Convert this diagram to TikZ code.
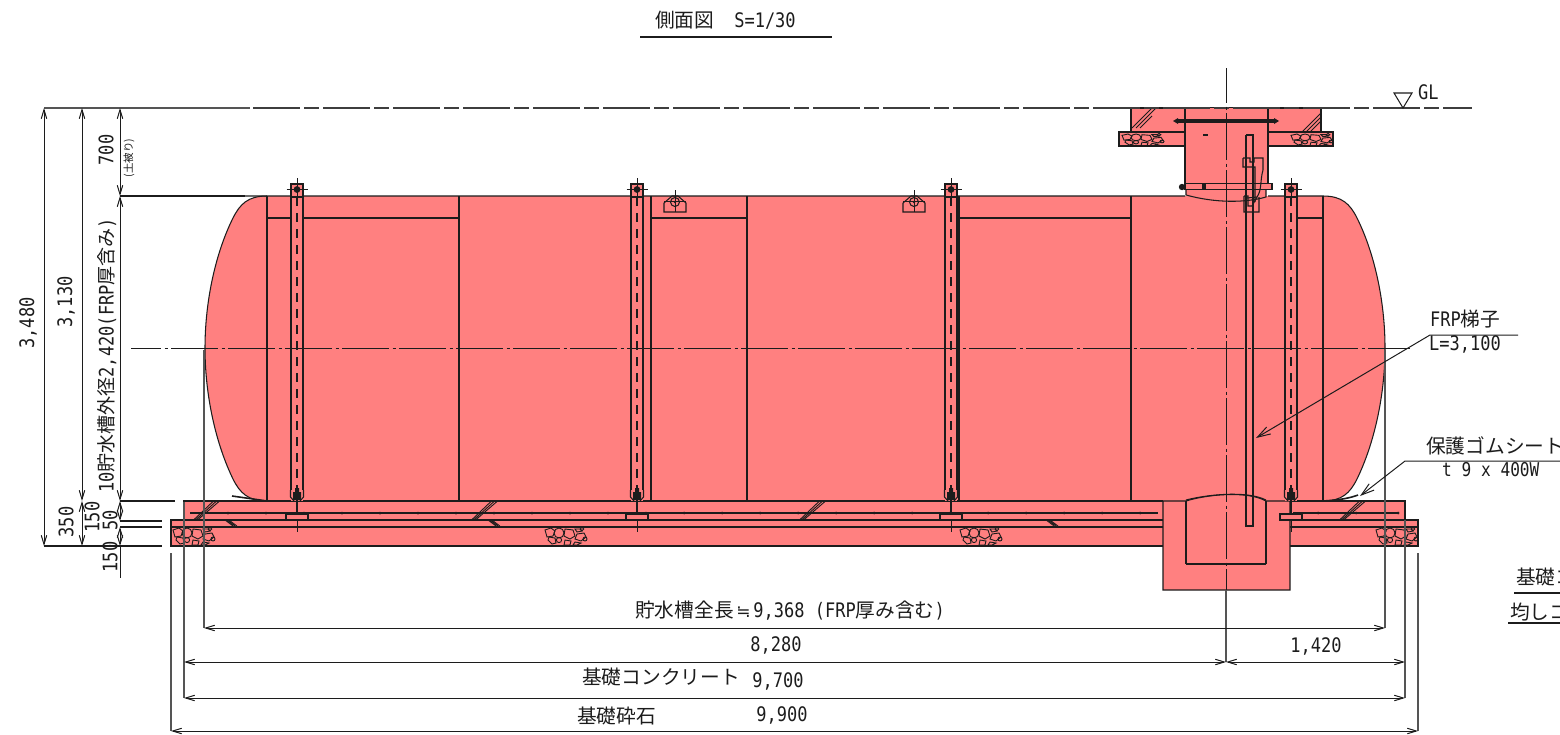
\documentclass[tikz,border=0pt]{standalone}
\usepackage{fontspec}
\setmainfont[FakeStretch=0.85]{DejaVu Sans Mono}
\newfontfamily\jp{Noto Sans CJK JP}
\newfontfamily\dv{DejaVu Sans}
\usetikzlibrary{arrows.meta}
\definecolor{tankfill}{HTML}{FF8080}
\definecolor{ink}{HTML}{1C1C1C}
\tikzset{
  ln/.style={draw=ink,line width=1.05pt},
  thin ln/.style={draw=ink,line width=0.9pt},
  thick ln/.style={draw=ink,line width=2pt},
  body/.style={fill=tankfill,draw=ink,line width=1.05pt},
  centre/.style={draw=ink!85,line width=1.3pt,dash pattern=on 47pt off 4pt on 15pt off 4pt},
  centre2/.style={draw=ink,line width=1pt,dash pattern=on 47pt off 3.5pt on 3pt off 3.5pt,dash phase=17pt},
  dimline/.style={draw=ink,line width=1pt,{Straight Barb[length=9pt,width=5.5pt]}-{Straight Barb[length=9pt,width=5.5pt]}},
  leader/.style={draw=ink,line width=1pt,-{Straight Barb[length=13pt,width=8pt]}},
  ext/.style={draw=ink!75,line width=1.3pt},
  lbl/.style={font=\fontsize{20}{21}\selectfont,text=ink,inner sep=0pt},
  jplbl/.style={font=\jp\fontsize{19.7}{20}\selectfont,text=ink,inner sep=0pt},
}
\newcommand{\jpt}[1]{{\jp\fontsize{19.7}{20}\selectfont #1}}
\newcommand{\jps}[1]{{\jp\fontsize{19}{20}\selectfont #1}}
\newcommand{\stonesAt}[3][1]{%
  \begin{scope}[shift={(#2,#3)},yscale=#1,draw=ink,line width=0.9pt]
    \draw (1,2) -- (7,0) -- (11,3) -- (9,8) -- (3,9) -- cycle;
    \draw (5,9) -- (11,10) -- (12,15) -- (8,16) -- (4,12) -- cycle;
    \draw (15,5) circle (5pt);
    \draw (21,1) -- (29,2) -- (31,8) -- (26,11) -- (20,8) -- cycle;
    \draw (15,12) circle (2.6pt);
    \draw (21,12) -- (27,13) -- (26,17) -- (20,17) -- cycle;
    \draw (31,1) -- (36,1) -- (38,3) -- (33,4) -- cycle;
    \draw (33,6) -- (40,5) -- (42,9) -- (37,13) -- (31,11) -- cycle;
    \draw (31,14) -- (37,15) -- (33,17) -- (29,17) -- cycle;
    \draw (41,11) circle (2pt);
    \draw (38,1) circle (1.8pt);
  \end{scope}}
\newcommand{\hatchAt}[2]{%
  \begin{scope}[shift={(#1,#2)},line width=0.9pt,draw=ink]
    \draw (-10,9.5) -- (11,-9.5) (-12,9.5) -- (8,-9.5) (-8,9.5) -- (14,-9.5);
  \end{scope}}
\newcommand{\smallhatch}[2]{%
  \begin{scope}[shift={(#1,#2)},line width=0.8pt,draw=ink]
    \draw (-6,-3) -- (2,3) (-4,-3) -- (4,3) (-2,-3) -- (6,3);
  \end{scope}}
\newcommand{\strapAt}[1]{%
  \begin{scope}[shift={(#1,0)}]
    \path[fill=tankfill] (-6,184) rectangle (6,501);
    \draw[ln] (-6,184) rectangle (6,197);
    \draw[ln,line width=1.4pt] (-6,197) -- (-6,490) (6,197) -- (6,490);
    \draw[ln] (-6.5,490) -- (-6.5,497) -- (-3,501) (6.5,490) -- (6.5,497) -- (3,501);
    \draw[ln,dash pattern=on 9pt off 7pt] (0,197) -- (0,490);
    \fill[ink] (0,189.5) circle (3.4pt);
    \draw[ln,line width=0.9pt] (0,178) -- (0,196) (-10.5,189.5) -- (10.5,189.5);
    \fill[ink] (-2,488) rectangle (2,492) (-4,492) rectangle (4,500);
    \draw[ln,line width=1.6pt] (0,500) -- (0,520);
    \draw[ln,line width=1pt] (0,520) -- (0,532);
    \draw[ln,fill=tankfill] (-11,514) rectangle (11,520);
  \end{scope}}
\begin{document}
\begin{tikzpicture}[x=1pt,y=-1pt]
\useasboundingbox (0,0) rectangle (1560,734);
% foundations
\path[body] (184,501) rectangle (1405,520);
\path[body] (171,520) rectangle (1418,546);
\draw[ln] (171,527) -- (1418,527);
\draw[thick ln] (190,513) -- (1158,513) (1293,513) -- (1399,513);
\foreach \x in {228,266,304,342,380,418,456,494,532,570,608,646,684,722,760,798,836,874,912,950,988,1026,1064,1102,1140,1318,1356,1398}{\fill[ink] (\x,513) circle (1.5pt);}
\stonesAt{172}{528}\stonesAt{544}{528}\stonesAt{959}{528}\stonesAt{1375}{528}
\hatchAt{205}{511}\hatchAt{483}{511}\hatchAt{811}{511}\hatchAt{1351}{511}
\smallhatch{231}{523}\smallhatch{494}{523}\smallhatch{1052}{523}
% tank
\path[fill=tankfill] (267,196) -- (1323,196)
  .. controls (1342,196) and (1350,204) .. (1357,218)
  .. controls (1374,252) and (1385,300) .. (1385,348)
  .. controls (1385,396) and (1374,444) .. (1357,479)
  .. controls (1350,493) and (1342,501) .. (1323,501)
  -- (267,501)
  .. controls (248,501) and (240,493) .. (233,479)
  .. controls (216,444) and (205,396) .. (205,348)
  .. controls (205,300) and (216,252) .. (233,218)
  .. controls (240,204) and (248,196) .. (267,196) -- cycle;
\draw[ln] (245,196) -- (1185,196) (1268,196) -- (1323,196)
  .. controls (1342,196) and (1350,204) .. (1357,218)
  .. controls (1374,252) and (1385,300) .. (1385,348)
  .. controls (1385,396) and (1374,444) .. (1357,479)
  .. controls (1350,493) and (1342,501) .. (1323,501);
\draw[ln] (267,501) .. controls (248,501) and (240,493) .. (233,479)
  .. controls (216,444) and (205,396) .. (205,348)
  .. controls (205,300) and (216,252) .. (233,218)
  .. controls (240,204) and (248,196) .. (267,196);
\draw[thick ln,line width=2.2pt] (267,501) -- (1163,501) (1290,501) -- (1323,501);
\draw[thick ln,line width=1.6pt] (232,496) -- (267,501) (1323,501) .. controls (1340,500) and (1350,498) .. (1358,495);
\foreach \x in {267,459,651,747,959,1131,1323}{\draw[ln] (\x,196) -- (\x,501);}
\draw[ln] (267,218) -- (459,218) (651,218) -- (747,218) (959,218) -- (1131,218) (1297,218) -- (1323,218);
% pit
\path[body] (1163,501) -- (1186,501) .. controls (1205,495) and (1246,490) .. (1266,501) -- (1290,501) -- (1290,590) -- (1163,590) -- cycle;
\draw[ln] (1186,501) -- (1186,564) (1266,501) -- (1266,564);
\draw[thick ln,line width=1.8pt] (1186,564) -- (1266,564);
\draw[ln] (1186,500) .. controls (1205,495) and (1246,490) .. (1266,500);
% straps
\strapAt{297}\strapAt{637}\strapAt{951}\strapAt{1291}
% hangers
\foreach \x in {675,914}{
  \begin{scope}[shift={(\x,0)}]
    \draw[ln] (-11,212) -- (-11,203) -- (-3,196) -- (3,196) -- (11,203) -- (11,212) -- cycle;
    \draw[ln] (0,202) circle (4.5pt);
    \fill[ink] (0,202) circle (1.4pt);
    \draw[thin ln] (-11,201) -- (11,201) (0,190) -- (0,212);
  \end{scope}}
% manhole
\path[body] (1131,108) rectangle (1321,132);
\path[body] (1119,132) rectangle (1333,146);
\draw[thick ln] (1119,132) -- (1185,132) (1268,132) -- (1333,132);
\stonesAt[0.68]{1121}{134}\stonesAt[0.68]{1290}{134}
\draw[ln,line width=0.9pt] (1132,128) -- (1152,108) (1136,128) -- (1156,108) (1140,128) -- (1152,116);
\draw[ln,line width=0.9pt] (1302,132) -- (1321,113) (1306,132) -- (1321,117) (1310,132) -- (1321,121);
\path[fill=tankfill] (1185,108) rectangle (1268,190);
\draw[ln] (1185,108) -- (1185,184) (1268,108) -- (1268,184);
\path[fill=tankfill] (1186,188) -- (1266,188) -- (1266,197) .. controls (1245,203) and (1215,203) .. (1186,195) -- cycle;
\draw[ln] (1186,189) -- (1186,195) .. controls (1215,203) and (1245,203) .. (1266,197) -- (1266,189);
\draw[ln,fill=tankfill] (1185,183.5) rectangle (1272,189.5);
\draw[ln] (1203,183.5) -- (1203,189.5) (1205,183.5) -- (1205,189.5);
\fill[ink] (1182,187) circle (3.2pt);
\draw[thick ln,line width=3.2pt] (1176,121) -- (1276,121);
\fill[ink] (1173,121) -- (1178,118) -- (1178,124) -- cycle (1279,121) -- (1274,118) -- (1274,124) -- cycle;
\draw[ln] (1203,135) -- (1208,135);
% ladder
\draw[ln] (1246,135) -- (1254,135) (1246,135) -- (1246,526) -- (1253,526) -- (1253,135);
\draw[ln] (1243,158) -- (1243,167) -- (1255,167) -- (1255,202) (1243,158) -- (1250,158) -- (1250,162) -- (1254,162) -- (1254,158) -- (1263,158) -- (1263,170) .. controls (1260,180) and (1262,190) .. (1257,197) -- (1247,198);
\draw[ln] (1244,196) -- (1248,196) -- (1248,206) -- (1252,206) -- (1257,197) (1244,196) -- (1244,212) -- (1259,212) -- (1259,197);
% centre lines
\draw[centre] (253,108) -- (1472,108);
\draw[centre2] (131,348) -- (1410,348);
\draw[centre2,dash phase=12pt] (1226,68) -- (1226,596);
% GL
\draw[ln] (1394,93) -- (1412,93) -- (1403,108) -- cycle;
\node[lbl,anchor=west] (gl) at (1418,92) {GL};
% extension lines
\draw[ext,line width=1.8pt] (44,108) -- (250,108);
\draw[ln,line width=1.5pt] (120,196) -- (245,196);
\draw[ln,line width=2.4pt] (120,501) -- (175,501);
\draw[ln] (120,521) -- (162,521);
\draw[ln,line width=1.4pt] (120,527) -- (162,527);
\draw[ln,line width=1.4pt] (44,546) -- (162,546);
\draw[ext] (204,350) -- (204,628) (1385,350) -- (1385,628);
\draw[ext] (184,502) -- (184,698) (1405,520) -- (1405,698);
\draw[ext] (171,553) -- (171,731) (1418,553) -- (1418,731);
\draw[ext] (1226,590) -- (1226,662);
% vertical dimensions
\coordinate (dA) at (44,108); \coordinate (dB) at (44,546);
\coordinate (dC) at (82,108); \coordinate (dD) at (82,501); \coordinate (dE) at (82,546);
\coordinate (dF) at (120,108); \coordinate (dG) at (120,196); \coordinate (dH) at (120,501);
\coordinate (dI) at (120,521); \coordinate (dJ) at (120,527); \coordinate (dK) at (120,546);
\draw[dimline] (dA) -- (dB);
\draw[dimline] (dC) -- (dD);
\draw[dimline] (dD) -- (dE);
\draw[dimline] (dF) -- (dG);
\draw[dimline] (dG) -- (dH);
\draw[dimline] (dH) -- (dI);
\draw[dimline] (dJ) -- (dK);
\draw[ln,line width=1pt] (120,546) -- (120,578);
% horizontal dimensions
\coordinate (hA) at (204,628); \coordinate (hB) at (1385,628);
\coordinate (hC) at (184,662); \coordinate (hD) at (1226,662); \coordinate (hE) at (1405,662);
\coordinate (hF) at (184,698); \coordinate (hG) at (1405,698);
\coordinate (hH) at (171,731); \coordinate (hI) at (1418,731);
\draw[dimline] (hA) -- (hB);
\draw[dimline] (hC) -- (hD);
\draw[dimline] (hD) -- (hE);
\draw[dimline] (hF) -- (hG);
\draw[dimline] (hH) -- (hI);
% leader lines
\coordinate (lA) at (1518,335); \coordinate (lB) at (1430,335); \coordinate (lC) at (1256,438);
\coordinate (lD) at (1560,461); \coordinate (lE) at (1405,461); \coordinate (lF) at (1360,496);
\draw[leader] (lA) -- (lB) -- (lC);
\draw[leader] (lD) -- (lE) -- (lF);
% title
\node[lbl,anchor=west] (ttl) at (655,20) {\jpt{側面図}\hspace{20pt}S=1/30};
\coordinate (tA) at (640,37); \coordinate (tB) at (832,37);
\draw[ln] (tA) -- (tB);
% rotated labels
\node[lbl,rotate=90] (t3480) at (28,323) {3,480};
\node[lbl,rotate=90] (t3130) at (66,302) {3,130};
\node[lbl,rotate=90] (t700) at (106,150) {700};
\node[jplbl,rotate=90,font=\jp\fontsize{10.5}{11}\selectfont] (tsoil) at (129,158) {(土被り)};
\node[lbl,rotate=90,anchor=west] (tdia) at (107,493) {10\jps{貯水槽外径}2,420(FRP\jps{厚含み})};
\node[lbl,rotate=90] (t350) at (66,522) {350};
\node[lbl,rotate=90] (t150a) at (92,517) {150};
\node[lbl,rotate=90] (t50) at (110,520) {50};
\node[lbl,rotate=90] (t150b) at (110,557) {150};
% bottom labels
\node[lbl,anchor=west] (tlen) at (635,611) {\jpt{貯水槽全長}\makebox[19.7pt]{\dv\fontsize{17}{18}\selectfont ≒}9,368 (FRP\jpt{厚み含む})};
\node[lbl] (t8280) at (776,645) {8,280};
\node[lbl] (t1420) at (1316,646) {1,420};
\node[jplbl,anchor=west] (tconc) at (582,677) {基礎コンクリート};
\node[lbl] (t9700) at (778,681) {9,700};
\node[jplbl,anchor=west] (tgrav) at (577,716) {基礎砕石};
\node[lbl] (t9900) at (782,715) {9,900};
% side labels
\node[lbl,anchor=west] (tfrp) at (1430,319) {FRP\jpt{梯子}};
\node[lbl,anchor=west] (tl) at (1429,344) {L=3,100};
\node[jplbl,anchor=west] (tgum) at (1426,446) {保護ゴムシート};
\node[lbl,anchor=west,font=\fontsize{19}{20}\selectfont] (tt9) at (1442,470) {t 9 x 400W};
\node[jplbl,anchor=west] (tk1) at (1516,577) {基礎コ};
\coordinate (kA) at (1514,593); \coordinate (kB) at (1560,593);
\draw[ln] (kA) -- (kB);
\node[jplbl,anchor=west] (tk2) at (1510,612) {均しコ};
\coordinate (kC) at (1508,623); \coordinate (kD) at (1560,623);
\draw[ln] (kC) -- (kD);
\end{tikzpicture}
\end{document}
